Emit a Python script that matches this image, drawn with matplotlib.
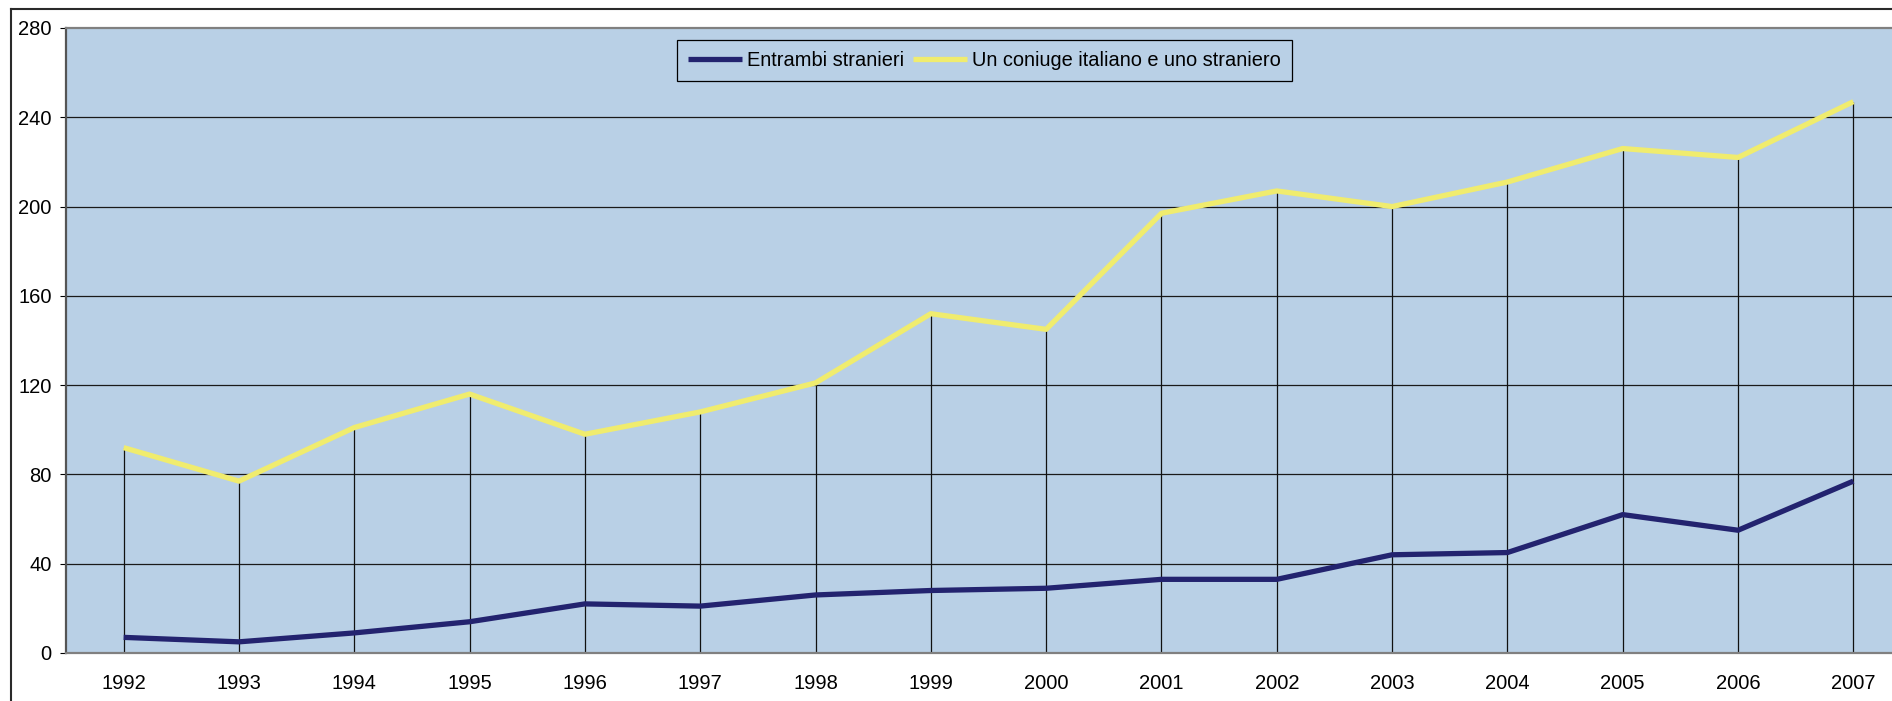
import matplotlib
matplotlib.use("Agg")
import matplotlib.pyplot as plt
from matplotlib.lines import Line2D

plt.rcParams['font.family'] = ['Liberation Sans', 'DejaVu Sans']

years = [1992, 1993, 1994, 1995, 1996, 1997, 1998, 1999, 2000, 2001, 2002, 2003, 2004, 2005, 2006, 2007]
entrambi_stranieri = [7, 5, 9, 14, 22, 21, 26, 28, 29, 33, 33, 44, 45, 62, 55, 77]
coniuge_italiano = [92, 77, 101, 116, 98, 108, 121, 152, 145, 197, 207, 200, 211, 226, 222, 247]
y_ticks = [0, 40, 80, 120, 160, 200, 240, 280]
series_labels = ["Entrambi stranieri", "Un coniuge italiano e uno straniero"]

W, H = 1892, 701
fig = plt.figure(figsize=(W / 100, H / 100), dpi=100)
fig.patch.set_facecolor('white')

left, right, top, bottom = 66, 1911, 28, 653
ax = fig.add_axes([left / W, (H - bottom) / H, (right - left) / W, (bottom - top) / H])
ax.set_facecolor('#B9D0E6')

ax.set_xlim(years[0] - 0.5, years[-1] + 0.5)
ax.set_ylim(0, 280)

for v in y_ticks[1:-1]:
    ax.axhline(v, color='#1a1a1a', lw=0.9, zorder=1)

ax.vlines(years, 0, coniuge_italiano, colors='#111111', lw=0.9, zorder=1)

ax.plot(years, entrambi_stranieri, color='#23236F', lw=3.8, solid_capstyle='butt', zorder=3, label=series_labels[0])
ax.plot(years, coniuge_italiano, color='#F0EC6E', lw=3.8, solid_capstyle='butt', zorder=3, label=series_labels[1])

ax.set_yticks(y_ticks)
ax.set_yticklabels([str(v) for v in y_ticks])
ax.set_xticks(years)
ax.set_xticklabels([str(y) for y in years])
ax.tick_params(axis='y', length=4.3, width=0.8, direction='out', pad=6, labelsize=14.5, colors='black')
ax.tick_params(axis='x', length=0, pad=15, labelsize=14.5, colors='black')

for s in ['top', 'left', 'bottom']:
    ax.spines[s].set_color('#808080')
    ax.spines[s].set_linewidth(1.6)
ax.spines['left'].set_color('#555555')
ax.spines['right'].set_visible(False)

leg = ax.legend(loc='upper center', bbox_to_anchor=(0.498, 0.981), ncol=2, fontsize=14.4,
                frameon=True, fancybox=False, edgecolor='black', facecolor='#B9D0E6',
                framealpha=1, handlelength=2.7, handletextpad=0.25, columnspacing=0.45,
                borderpad=0.55, borderaxespad=0, handleheight=0.7)
leg.get_frame().set_linewidth(0.9)

# outer chart border (clipped at right and bottom)
bx = 11 / W
by = 1 - 9 / H
fig.add_artist(Line2D([bx, bx], [0, by], transform=fig.transFigure, color='#2a2a2a', lw=1.5))
fig.add_artist(Line2D([bx, 1], [by, by], transform=fig.transFigure, color='#2a2a2a', lw=1.5))

fig.savefig('out.png', dpi=100, facecolor='white')
